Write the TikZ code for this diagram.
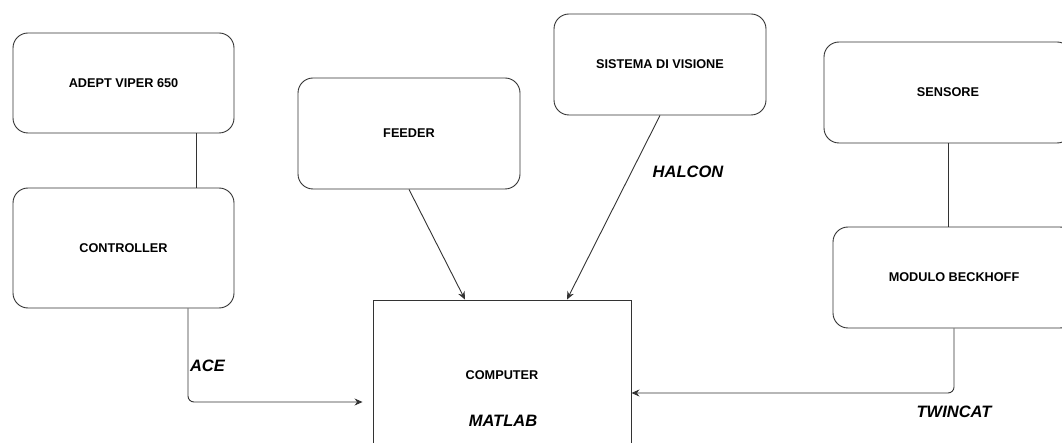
\documentclass[tikz,border=0pt]{standalone}
\usepackage{fontspec}
\setmainfont{Liberation Sans}
\usetikzlibrary{arrows.meta}

\tikzset{
    blocco/.style={draw=black!80, line width=0.9pt, rounded corners=15pt, inner sep=0pt,
        font=\bfseries\fontsize{12.7}{15}\selectfont},
    etichetta/.style={font=\bfseries\itshape\fontsize{16.5}{19}\selectfont, inner sep=0pt},
    linea/.style={draw=black!80, line width=0.9pt},
    freccia/.style={linea, -{Stealth[length=8pt, width=7pt]}}
}

\begin{document}
\begin{tikzpicture}[x=1pt, y=1pt]

        \useasboundingbox (0,0) rectangle (1062,442);

        % blocchi
        \node[blocco, minimum width=221, minimum height=100] (adept) at (123.5,359) {ADEPT VIPER 650};
        \node[blocco, minimum width=221, minimum height=120] (ctrl) at (123.5,194) {CONTROLLER};
        \node[blocco, minimum width=222, minimum height=111] (feeder) at (409,308.5) {FEEDER};
        \node[blocco, minimum width=212, minimum height=101] (vis) at (660,377.5) {SISTEMA DI VISIONE};
        \node[blocco, minimum width=248, minimum height=101] (sens) at (948,349.5) {SENSORE};
        \node[blocco, minimum width=242, minimum height=101] (beck) at (954,164.5) {MODULO BECKHOFF};

        % computer
        \node[blocco, rounded corners=0pt, minimum width=258, minimum height=150] (comp) at (502,67) {COMPUTER};

        % collegamenti
        \draw[linea] ([xshift=72.5pt]adept.south) -- ([xshift=72.5pt]ctrl.north);
        \draw[linea] (sens.south) -- (sens.south |- beck.north);
        \draw[freccia] (feeder.south) -- ([xshift=-37pt]comp.north);
        \draw[freccia] (vis.south) -- ([xshift=65pt]comp.north);
        \draw[freccia, rounded corners=6pt] ([xshift=64.5pt]ctrl.south) |- ([xshift=-10pt, yshift=-27pt]comp.west);
        \draw[freccia, rounded corners=6pt] (beck.south) |- ([yshift=-18pt]comp.east);

        % software
        \node[etichetta] (ace) at (207.5,76) {ACE};
        \node[etichetta] (halcon) at (688,270) {HALCON};
        \node[etichetta] (twincat) at (954,30) {TWINCAT};
        \node[etichetta] (matlab) at (503,21) {MATLAB};

    \end{tikzpicture}
\end{document}
